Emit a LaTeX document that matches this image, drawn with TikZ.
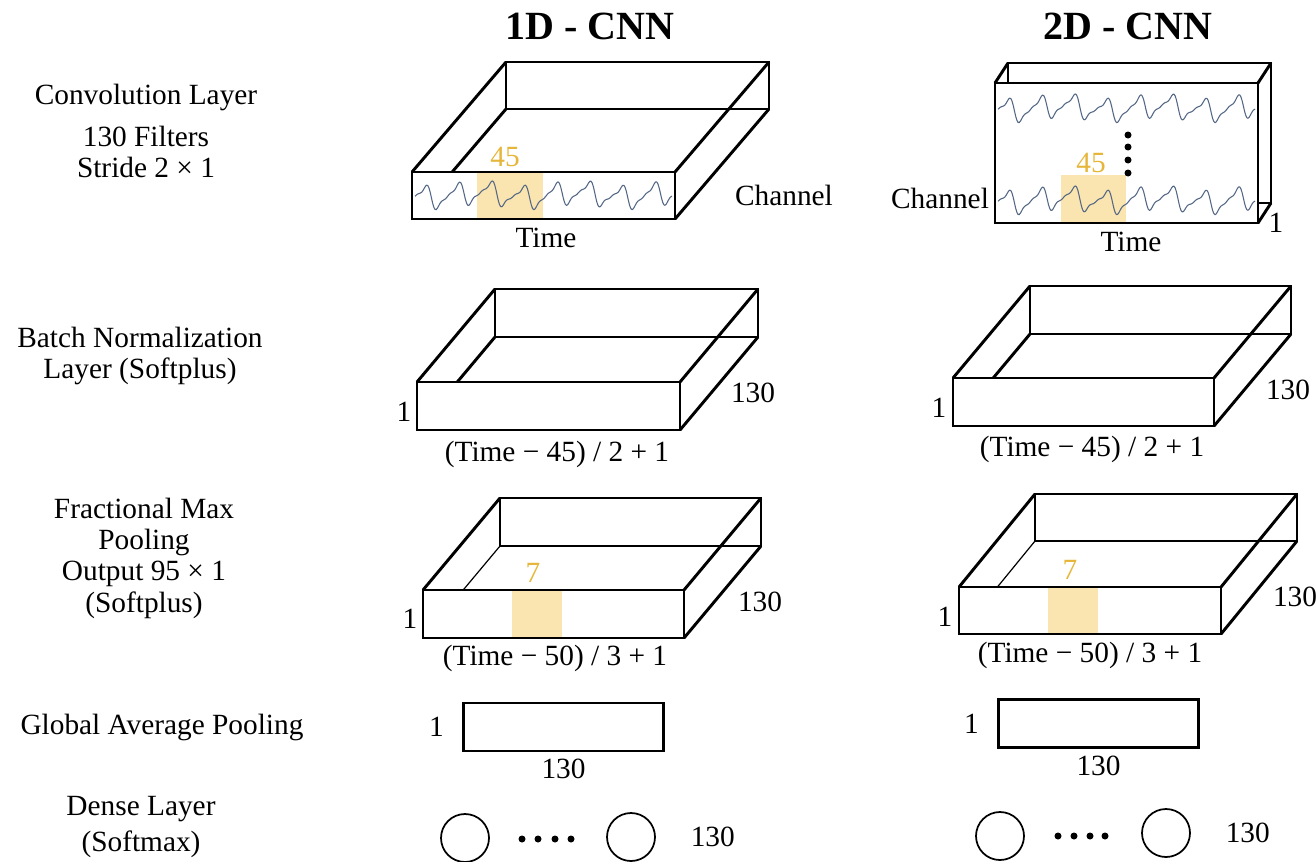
\documentclass[tikz,border=0pt]{standalone}
\usepackage{fontspec}
\setmainfont{Liberation Serif}
\usepackage{tikz}
\usetikzlibrary{positioning}
\usepackage{xcolor}

\definecolor{hlfill}{RGB}{250,228,176}
\definecolor{hlnum}{RGB}{230,182,58}
\definecolor{wavecol}{RGB}{84,104,134}

% open tray: [hidden edge]{x}{y}{w}{h}{dx}{dy}{front face content}
\newcommand{\layerbox}[8][boxline]{%
  \draw[boxline] ({#2+#6},{#3-#7}) rectangle ({#2+#4+#6},{#3+#5-#7});
  \draw[boxline] (#2,#3) -- ({#2+#6},{#3-#7});
  \draw[boxline] ({#2+#4},#3) -- ({#2+#4+#6},{#3-#7});
  \draw[boxline] ({#2+#4},{#3+#5}) -- ({#2+#4+#6},{#3+#5-#7});
  \draw[#1] (#2,{#3+#5}) -- ({#2+#6},{#3+#5-#7});
  \fill[white] (#2,#3) rectangle ({#2+#4},{#3+#5});
  #8
  \draw[boxline] (#2,#3) rectangle ({#2+#4},{#3+#5});
}
% one signal trace: {x}{y}{length}
\newcommand{\signal}[3]{%
  \draw[wave] plot[domain=0:#3,samples=220]
    ({#1+\x},{#2-9*sin(\x*11)+4.5*sin(\x*22)-2*sin(\x*33)+2.5*sin(\x*3.7+30)});
}

\begin{document}
\begin{tikzpicture}[x=0.75pt,y=-0.75pt,
    node distance=13pt,
    lbl/.style={font=\fontsize{22}{23.5}\selectfont,align=center,inner sep=0pt},
    head/.style={font=\fontsize{30}{32}\selectfont\bfseries,inner sep=0pt},
    num/.style={lbl,text=hlnum},
    boxline/.style={line width=2.2pt},
    thinline/.style={line width=0.9pt},
    hl/.style={fill=hlfill},
    wave/.style={draw=wavecol,line width=0.8pt,line join=round},
    vec/.style={draw,boxline,minimum width=150pt,minimum height=36pt,inner sep=0pt},
    neuron/.style={circle,draw,line width=1.3pt,minimum size=36pt,inner sep=0pt}
  ]
    \useasboundingbox (0,0) rectangle (1316,861);

    % column headings
    \node[head] (h1d) at (590,26) {1D - CNN};
    \node[head] (h2d) at (1128,26) {2D - CNN};

    % layer names
    \node[lbl] (convlbl) at (146,131) {Convolution Layer\\[8pt]130 Filters\\Stride 2 × 1};
    \node[lbl] (bnlbl) at (140,356) {Batch Normalization\\Layer (Softplus)};
    \node[lbl] (fmplbl) at (144,558) {Fractional Max\\Pooling\\Output 95 × 1\\(Softplus)};
    \node[lbl] (gaplbl) at (162,727) {Global Average Pooling};
    \node[lbl] (denselbl) at (141,827) {Dense Layer\\[3pt](Softmax)};

    % convolution, 1D
    \layerbox{412}{172}{263}{47}{94}{110}{%
      \fill[hl] (477,172) rectangle (543,219);
      \signal{415}{195}{257}}
    \node[num] (k1d) at (505,157) {45};
    \node[lbl] (t1d) at (546,238) {Time};
    \node[lbl] (ch1d) at (784,195) {Channel};

    % convolution, 2D
    \layerbox{995}{83}{263}{140}{13}{20}{%
      \fill[hl] (1061,175) rectangle (1126,223);
      \signal{998}{108}{257}
      \signal{998}{200}{257}
      \foreach \y in {135,147,160,173} \fill (1128,\y) circle[radius=3.5];}
    \node[num] (k2d) at (1091,163) {45};
    \node[lbl] (ch2d) at (940,198) {Channel};
    \node[lbl] (t2d) at (1131,242) {Time};
    \node[lbl] (w2d) at (1276,223) {1};

    % batch normalization
    \layerbox{417}{382}{263}{48}{78}{93}{}
    \node[lbl] (bnh1d) at (404,412) {1};
    \node[lbl] (bnd1d) at (753,393) {130};
    \node[lbl] (bnw1d) at (557,454) {(Time − 45) / 2 + 1};
    \layerbox{953}{378}{261}{48}{77}{92}{}
    \node[lbl] (bnh2d) at (939,408) {1};
    \node[lbl] (bnd2d) at (1288,390) {130};
    \node[lbl] (bnw2d) at (1092,449) {(Time − 45) / 2 + 1};

    % fractional max pooling
    \layerbox[thinline]{423}{590}{261}{48}{77}{92}{%
      \fill[hl] (512,590) rectangle (562,638);}
    \node[num] (p1d) at (533,573) {7};
    \node[lbl] (fph1d) at (410,619) {1};
    \node[lbl] (fpd1d) at (760,602) {130};
    \node[lbl] (fpw1d) at (555,658) {(Time − 50) / 3 + 1};
    \layerbox[thinline]{959}{587}{262}{47}{76}{93}{%
      \fill[hl] (1048,587) rectangle (1098,634);}
    \node[num] (p2d) at (1070,570) {7};
    \node[lbl] (fph2d) at (945,617) {1};
    \node[lbl] (fpd2d) at (1295,597) {130};
    \node[lbl] (fpw2d) at (1090,655) {(Time − 50) / 3 + 1};

    % global average pooling
    \node[vec] (gap1d) at (563.5,727) {};
    \node[lbl,left=13.5pt of gap1d] (gh1d) {1};
    \node[lbl,below=5pt of gap1d] (gw1d) {130};
    \node[vec] (gap2d) at (1098.5,723.5) {};
    \node[lbl,left=13.5pt of gap2d] (gh2d) {1};
    \node[lbl,below=5pt of gap2d] (gw2d) {130};

    % dense layer
    \node[neuron] (n1a) at (465,838) {};
    \node[neuron] (n1b) at (631,837) {};
    \foreach \x in {522,538,555,571} \fill (\x,839) circle[radius=3.5];
    \node[lbl,right=26pt of n1b] (o1d) {130};
    \node[neuron] (n2a) at (1000,836) {};
    \node[neuron] (n2b) at (1166,833) {};
    \foreach \x in {1058,1074,1090,1105} \fill (\x,836) circle[radius=3.5];
    \node[lbl,right=26pt of n2b] (o2d) {130};
  \end{tikzpicture}
\end{document}
